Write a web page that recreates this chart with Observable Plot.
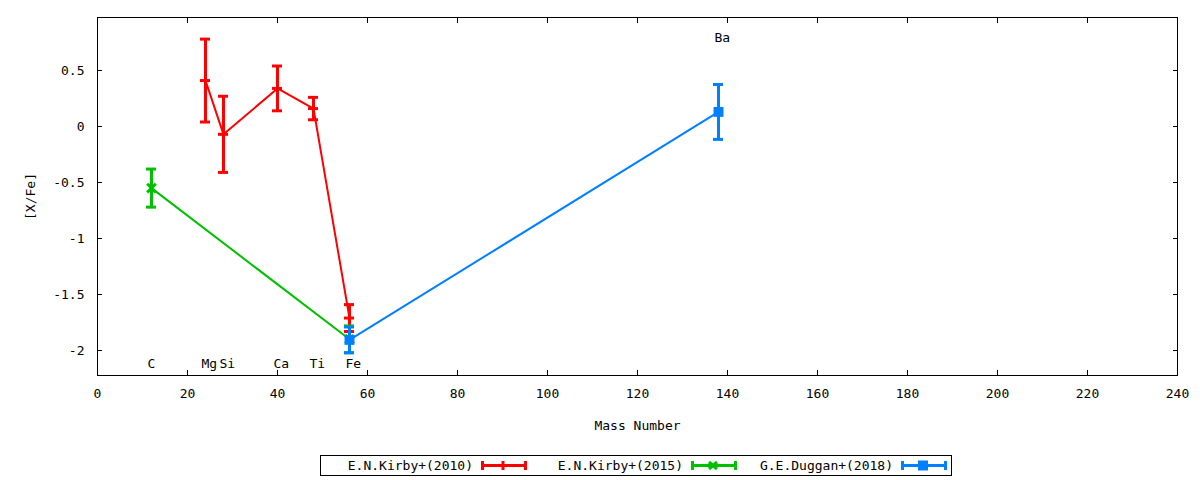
<!DOCTYPE html>
<html>
<head>
<meta charset="utf-8">
<script src="https://cdn.jsdelivr.net/npm/d3@7"></script>
<script src="https://cdn.jsdelivr.net/npm/@observablehq/plot@0.6"></script>
<style>
  html, body { margin: 0; padding: 0; background: #fff; }
  body { width: 1200px; height: 480px; overflow: hidden; font-family: "DejaVu Sans Mono", monospace; }
  #legend { position: absolute; left: 320px; top: 455px; width: 630px; height: 19px; border: 1px solid #000; display: flex; font-size: 13px; }
  .entry { width: 210px; position: relative; height: 19px; }
  .entry span { position: absolute; right: 58px; top: 1px; line-height: 17px; white-space: nowrap; }
  .entry svg { position: absolute; left: 160px; top: 0; }
</style>
</head>
<body>
<div id="chart"></div>
<div id="legend"></div>
<script>
// ---- data ----
const kirby2010Mass = [24, 28, 40, 48, 56];
const kirby2010XFe  = [0.41, -0.07, 0.34, 0.16, -1.71];
const kirby2010Err  = [0.37, 0.34, 0.20, 0.10, 0.12];

const kirby2015Mass = [12, 56];
const kirby2015XFe  = [-0.55, -1.90];
const kirby2015Err  = [0.17, 0.12];

const duggan2018Mass = [56, 138];
const duggan2018XFe  = [-1.905, 0.13];
const duggan2018Err  = [0.115, 0.245];

const elementNames = ["C", "Mg", "Si", "Ca", "Ti", "Fe", "Ba"];
const elementMass  = [12, 24, 28, 40, 48, 56, 138];
const elementLabelY = [-2.12, -2.12, -2.12, -2.12, -2.12, -2.12, 0.795];

const xTicks = [0, 20, 40, 60, 80, 100, 120, 140, 160, 180, 200, 220, 240];
const yTicks = [0.5, 0, -0.5, -1, -1.5, -2];

const seriesNames = ["E.N.Kirby+(2010)", "E.N.Kirby+(2015)", "G.E.Duggan+(2018)"];
const seriesColors = ["#ff0000", "#00c000", "#0080ff"];

// ---- build tables ----
const mk = (m, v, e) => m.map((x, i) => ({x, y: v[i], lo: v[i] - e[i], hi: v[i] + e[i]}));
const s1 = mk(kirby2010Mass, kirby2010XFe, kirby2010Err);
const s2 = mk(kirby2015Mass, kirby2015XFe, kirby2015Err);
const s3 = mk(duggan2018Mass, duggan2018XFe, duggan2018Err);
const labels = elementNames.map((t, i) => ({t, x: elementMass[i], y: elementLabelY[i]}));

const font = "DejaVu Sans Mono";
function errMarks(data, color) {
  return [
    Plot.line(data, {x: "x", y: "y", stroke: color, strokeWidth: 2}),
    Plot.ruleX(data, {x: "x", y1: "lo", y2: "hi", stroke: color, strokeWidth: 3}),
    Plot.ruleY(data, {y: "lo", x1: "x", x2: "x", insetLeft: -5, insetRight: -5, stroke: color, strokeWidth: 3}),
    Plot.ruleY(data, {y: "hi", x1: "x", x2: "x", insetLeft: -5, insetRight: -5, stroke: color, strokeWidth: 3})
  ];
}

const plot = Plot.plot({
  width: 1200,
  height: 450,
  marginTop: 17,
  marginBottom: 75,
  marginLeft: 97,
  marginRight: 23,
  style: {fontFamily: font, fontSize: "13px", color: "#000", background: "#fff"},
  x: {domain: [0, 240]},
  y: {domain: [-2.223, 0.973]},
  marks: [
    Plot.frame({stroke: "#000", strokeWidth: 1}),
    // inward ticks
    Plot.axisX(xTicks, {anchor: "bottom", tickSize: 5, dy: -5, fill: "none", label: null}),
    Plot.axisX(xTicks, {anchor: "top", tickSize: 5, dy: 5, fill: "none", label: null}),
    Plot.axisY(yTicks, {anchor: "left", tickSize: 5, dx: 5, fill: "none", label: null}),
    Plot.axisY(yTicks, {anchor: "right", tickSize: 5, dx: -5, fill: "none", label: null}),
    // tick labels
    Plot.axisX(xTicks, {anchor: "bottom", tickSize: 0, tickPadding: 13, label: "Mass Number", labelAnchor: "center", labelArrow: "none", labelOffset: 54, fontSize: 13}),
    Plot.axisY(yTicks, {anchor: "left", tickSize: 0, tickPadding: 13, tickFormat: d => String(d), label: "[X/Fe]", labelAnchor: "center", labelArrow: "none", labelOffset: 72, fontSize: 13}),
    // series
    ...errMarks(s1, seriesColors[0]),
    Plot.ruleY(s1, {y: "y", x1: "x", x2: "x", insetLeft: -5, insetRight: -5, stroke: seriesColors[0], strokeWidth: 3}),
    ...errMarks(s2, seriesColors[1]),
    Plot.dot(s2, {x: "x", y: "y", symbol: "times", r: 4, stroke: seriesColors[1], strokeWidth: 3}),
    ...errMarks(s3, seriesColors[2]),
    Plot.dot(s3, {x: "x", y: "y", symbol: "square", r: 5.6, fill: seriesColors[2], stroke: "none"}),
    // element labels
    Plot.text(labels, {x: "x", y: "y", text: "t", textAnchor: "start", dx: -4, fill: "#000", fontSize: 13})
  ]
});
document.getElementById("chart").appendChild(plot);

// ---- legend ----
const legend = document.getElementById("legend");
const markerKinds = ["plus", "times", "square"];
seriesNames.forEach((name, i) => {
  const entry = document.createElement("div");
  entry.className = "entry";
  const span = document.createElement("span");
  span.textContent = name;
  entry.appendChild(span);
  const c = seriesColors[i];
  let marker = "";
  if (markerKinds[i] === "plus") marker = `<line x1="22" x2="22" y1="5" y2="14" stroke="${c}" stroke-width="3"/>`;
  else if (markerKinds[i] === "times") marker = `<path d="M18,6L26,13M18,13L26,6" stroke="${c}" stroke-width="3"/>`;
  else marker = `<rect x="17" y="4.5" width="10" height="10" fill="${c}"/>`;
  entry.insertAdjacentHTML("beforeend",
    `<svg width="46" height="19"><line x1="1.5" x2="44.5" y1="9.5" y2="9.5" stroke="${c}" stroke-width="3"/>` +
    `<line x1="1.5" x2="1.5" y1="5" y2="14" stroke="${c}" stroke-width="3"/>` +
    `<line x1="44.5" x2="44.5" y1="5" y2="14" stroke="${c}" stroke-width="3"/>` + marker + `</svg>`);
  legend.appendChild(entry);
});
</script>
</body>
</html>
